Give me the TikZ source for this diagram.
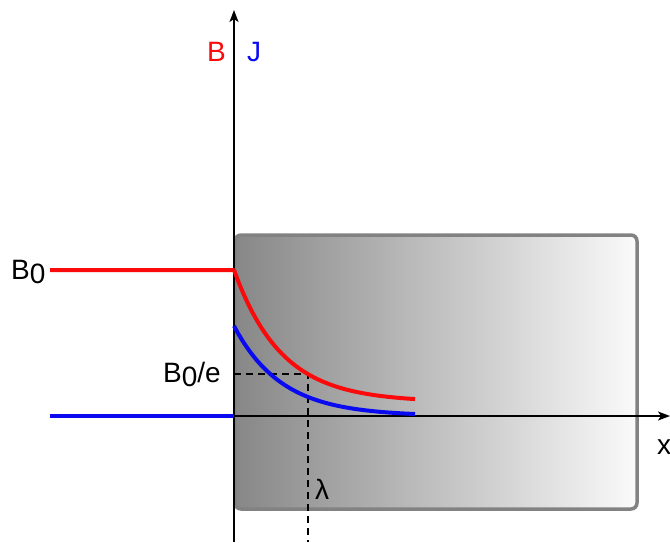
\documentclass[tikz,border=0pt]{standalone}
\usepackage{fontspec}
\setmainfont{Liberation Sans}
\usetikzlibrary{arrows.meta}
\definecolor{bred}{RGB}{250,10,10}
\definecolor{jblue}{RGB}{10,10,240}
\definecolor{slabL}{RGB}{135,135,135}
\definecolor{slabR}{RGB}{250,250,250}
\definecolor{slabE}{RGB}{130,130,130}
\tikzset{
  axis/.style={line width=1.5pt,-{Stealth[length=12pt,width=9pt,inset=3pt]}},
  curveB/.style={bred,line width=4pt},
  curveJ/.style={jblue,line width=4pt},
  guide/.style={line width=1.5pt,dash pattern=on 7pt off 5pt},
  lbl/.style={inner sep=0pt,font=\fontsize{28}{30}\selectfont},
  slab/.style={left color=slabL,right color=slabR,draw=slabE,line width=3.5pt,rounded corners=6pt}
}
\begin{document}
\begin{tikzpicture}[x=1pt,y=-1pt]
\useasboundingbox (0,0) rectangle (670,542);
\clip (0,0) rectangle (670,542);
% superconductor slab
\path[slab] (235,235) rectangle (637,509);
% axes
\coordinate (o) at (234,416);
\coordinate (ybot) at (234,542);
\coordinate (ytop) at (234,10);
\coordinate (xend) at (670,416);
\draw[axis] (ybot) -- (ytop);
\draw[axis] (o) -- (xend);
% dashed guides
\coordinate (yl) at (234,374);
\coordinate (lam) at (308,374);
\coordinate (lambot) at (308,542);
\draw[guide] (yl) -- (lam) -- (lambot);
% curves
\coordinate (bstart) at (50,270);
\coordinate (bedge) at (234,270);
\draw[curveB,line join=round] (bstart) -- (bedge) -- plot[domain=234:415,samples=80] (\x,{402-132*exp(-(\x-234)/47.6)});
\coordinate (jstart) at (50,416);
\draw[curveJ] (jstart) -- (o);
\draw[curveJ] plot[domain=234:415,samples=80] (\x,{416-90*exp(-(\x-234)/47.6)});
% labels
\node[lbl,bred,anchor=base west] (lB) at (207,61) {B};
\node[lbl,jblue,anchor=base west] (lJ) at (247,61) {J};
\node[lbl,anchor=base west] (lB0) at (11,279) {B\raisebox{-4pt}{0}};
\node[lbl,anchor=base east] (lB0e) at (221,382) {B\raisebox{-4pt}{0}/e};
\node[lbl,anchor=base west] (llam) at (315,499) {λ};
\node[lbl,anchor=base west] (lx) at (657,454) {x};
\end{tikzpicture}
\end{document}
